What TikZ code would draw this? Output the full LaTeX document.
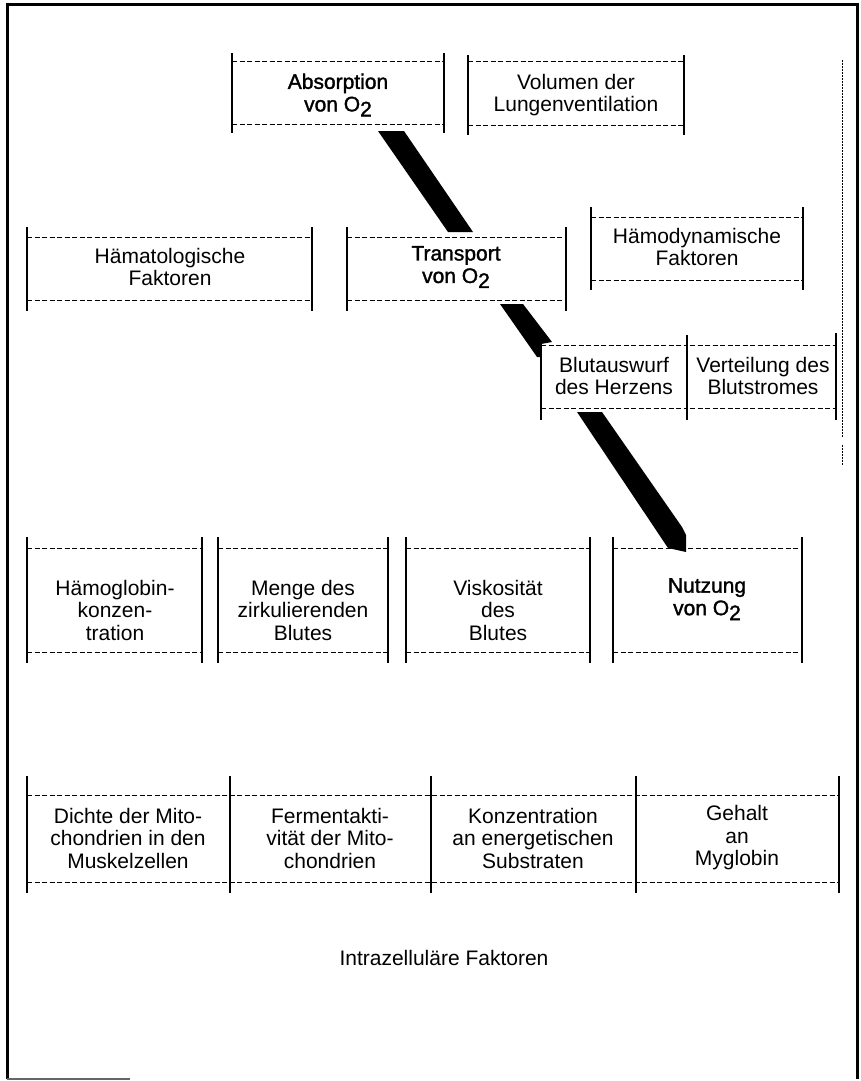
\documentclass[tikz,border=0pt]{standalone}
\usepackage{fontspec}
\setmainfont{Liberation Sans}
\newfontfamily\semib[FakeBold=1.5]{Liberation Sans}
\newcommand\Otwo{O\raisebox{-5pt}{2}}
\tikzset{
  vline/.style={line width=1.6pt, black},
  dline/.style={line width=1pt, black, dash pattern=on 5pt off 2.5pt},
  lbl/.style={align=center, inner sep=0pt, font=\fontsize{21}{22.5}\selectfont},
  lblb/.style={lbl, font=\fontsize{21}{22.5}\selectfont\semib},
  band/.style={fill=black, draw=none},
  frame/.style={line width=3pt, black}
}
\newcommand\fbx[6]{%
  \draw[vline] (#1,#3) -- (#1,#6);
  \draw[vline] (#2,#3) -- (#2,#6);
  \draw[dline] (#1,#4) -- (#2,#4);
  \draw[dline] (#1,#5) -- (#2,#5);
}
\begin{document}
\begin{tikzpicture}[x=1pt,y=-1pt]
\useasboundingbox (0,0) rectangle (860,1081);
% frame
\draw[frame] (7,1079) -- (7,5) -- (857,5) -- (857,1079);
\draw[line width=2pt, black!60] (7,1079) -- (130,1079);
\draw[line width=0.8pt, dash pattern=on 2pt off 1pt] (842,60) -- (842,437);
\draw[line width=0.8pt, dash pattern=on 2pt off 1pt] (842,445) -- (842,465);

% row 1
\fbx{232}{444}{53}{62}{124}{133}
\node[lblb] (abs) at (338,95) {Absorption\\von \Otwo};
\fbx{468}{684}{55}{62}{125}{135}
\node[lbl] (vol) at (576,95) {Volumen der\\Lungenventilation};

% row 2
\fbx{27}{312}{227}{237}{300}{311}
\node[lbl] (haem) at (170,267) {Hämatologische\\Faktoren};
\fbx{347}{566}{227}{237}{300}{311}
\node[lblb] (trans) at (456,267) {Transport\\von \Otwo};
\fbx{591}{803}{207}{217}{280}{290}
\node[lbl] (hdyn) at (697,247) {Hämodynamische\\Faktoren};

% Blutauswurf row
\fbx{541}{687}{335}{345}{408}{420}
\node[lbl] (blut) at (614,376) {Blutauswurf\\des Herzens};
\draw[dline] (690,345) -- (836,345);
\draw[dline] (690,408) -- (836,408);
\draw[vline] (836,333) -- (836,420);
\node[lbl] (vert) at (763,376) {Verteilung des\\Blutstromes};

% row 3
\fbx{27}{202}{537}{548}{652}{663}
\node[lbl] (hgb) at (115,610) {Hämoglobin-\\konzen-\\tration};
\fbx{218}{388}{537}{548}{652}{663}
\node[lbl] (menge) at (303,610) {Menge des\\zirkulierenden\\Blutes};
\fbx{406}{590}{537}{548}{652}{663}
\node[lbl] (visk) at (498,610) {Viskosität\\des\\Blutes};
\fbx{613}{802}{537}{548}{652}{663}
\node[lblb, anchor=north] (nutz) at (707,578) {Nutzung\\von \Otwo};

% row 4
\draw[dline] (27,795) -- (839,795);
\draw[dline] (27,882) -- (839,882);
\foreach \x in {27,230,431,636,839} \draw[vline] (\x,776) -- (\x,893);
\node[lbl] (dichte) at (128,838) {Dichte der Mito-\\chondrien in den\\Muskelzellen};
\node[lbl] (ferm) at (330,838) {Fermentakti-\\vität der Mito-\\chondrien};
\node[lbl] (konz) at (533,838) {Konzentration\\an energetischen\\Substraten};
\node[lbl] (geh) at (737,838) {Gehalt\\an\\Myglobin};

\node[lbl] (intra) at (444,958) {Intrazelluläre Faktoren};

% bands
\fill[band] (378,131) -- (404,131) -- (473,232) -- (448,232) -- cycle;
\fill[band] (500,304) -- (523,304) -- (552,342) -- (541,344) -- (541,357) -- (537,357) -- cycle;
\fill[band] (577,412) -- (602,412) -- (682,527) -- (686,535) -- (686,552) -- (668,548) -- cycle;
\end{tikzpicture}
\end{document}
